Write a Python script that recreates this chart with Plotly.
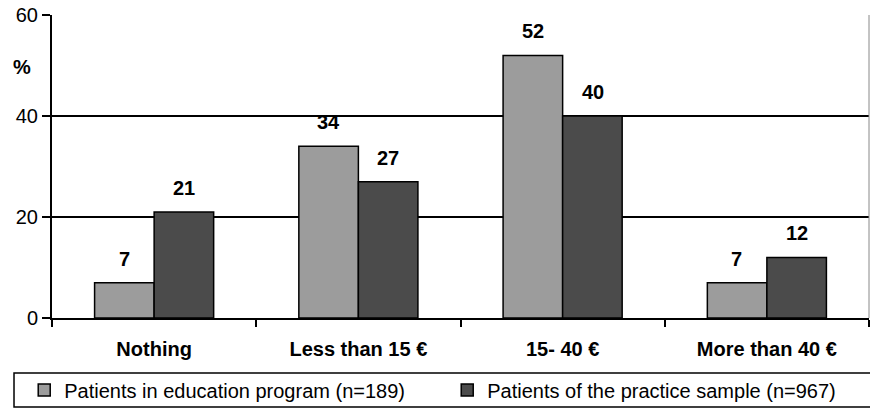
import plotly.graph_objects as go

categories = ["Nothing", "Less than 15 €", "15- 40 €", "More than 40 €"]
education = [7, 34, 52, 7]
practice = [21, 27, 40, 12]
series_names = ["Patients in education program (n=189)", "Patients of the practice sample (n=967)"]
y_ticks = [0, 20, 40, 60]

FONT = "Arial, Liberation Sans, sans-serif"
LIGHT = "#9c9c9c"
DARK = "#4b4b4b"

fig = go.Figure()
fig.add_trace(go.Bar(x=categories, y=education, name=series_names[0],
                     marker=dict(color=LIGHT, line=dict(color="black", width=1.5))))
fig.add_trace(go.Bar(x=categories, y=practice, name=series_names[1],
                     marker=dict(color=DARK, line=dict(color="black", width=1.5))))

annotations = []
for c, v in zip(categories, education):
    annotations.append(dict(x=c, y=v, xref="x", yref="y", text=f"<b>{v}</b>", showarrow=False,
                            xshift=-30, yshift=11, yanchor="bottom",
                            font=dict(family=FONT, size=20, color="black")))
for c, v in zip(categories, practice):
    annotations.append(dict(x=c, y=v, xref="x", yref="y", text=f"<b>{v}</b>", showarrow=False,
                            xshift=30, yshift=11, yanchor="bottom",
                            font=dict(family=FONT, size=20, color="black")))
annotations.append(dict(x=-0.037, y=0.83, xref="paper", yref="paper", text="<b>%</b>",
                        showarrow=False, xanchor="center", yanchor="middle",
                        font=dict(family=FONT, size=20, color="black")))

fig.update_layout(
    width=870, height=408,
    margin=dict(l=52, r=1, t=15, b=90, autoexpand=False),
    paper_bgcolor="white", plot_bgcolor="white",
    barmode="group", bargap=0.417, bargroupgap=0,
    font=dict(family=FONT, size=20, color="black"),
    annotations=annotations,
    showlegend=True,
    legend=dict(orientation="h", x=-0.034, xanchor="left", y=-0.238, yanchor="middle",
                font=dict(family=FONT, size=20, color="black"),
                bgcolor="rgba(0,0,0,0)", borderwidth=0, entrywidth=378,
                traceorder="normal"),
    shapes=[
        dict(type="rect", xref="paper", yref="paper", x0=-0.0465, x1=1.01, y0=-0.2937, y1=-0.1815,
             line=dict(color="black", width=1.5)),
        dict(type="line", xref="paper", yref="paper", x0=1, x1=1, y0=0, y1=1,
             line=dict(color="#888888", width=1)),
    ],
)
fig.update_xaxes(showline=True, linecolor="black", linewidth=2, ticks="outside",
                 tickson="boundaries", ticklen=7, tickwidth=1.5, tickcolor="black",
                 ticklabelstandoff=12, automargin=False,
                 tickfont=dict(family=FONT, size=20, color="black", weight="bold"),
                 showgrid=False)
fig.update_yaxes(range=[0, 60], tickvals=y_ticks, showline=True, linecolor="black", linewidth=2,
                 ticks="outside", ticklen=8, tickwidth=1.5, tickcolor="black",
                 showgrid=True, gridcolor="black", gridwidth=1.5, zeroline=False,
                 automargin=False,
                 tickfont=dict(family=FONT, size=20, color="black"))

fig.write_html("out.html", config={"displayModeBar": False},
               post_script="document.body.style.margin='0';document.documentElement.style.overflow='hidden';")
